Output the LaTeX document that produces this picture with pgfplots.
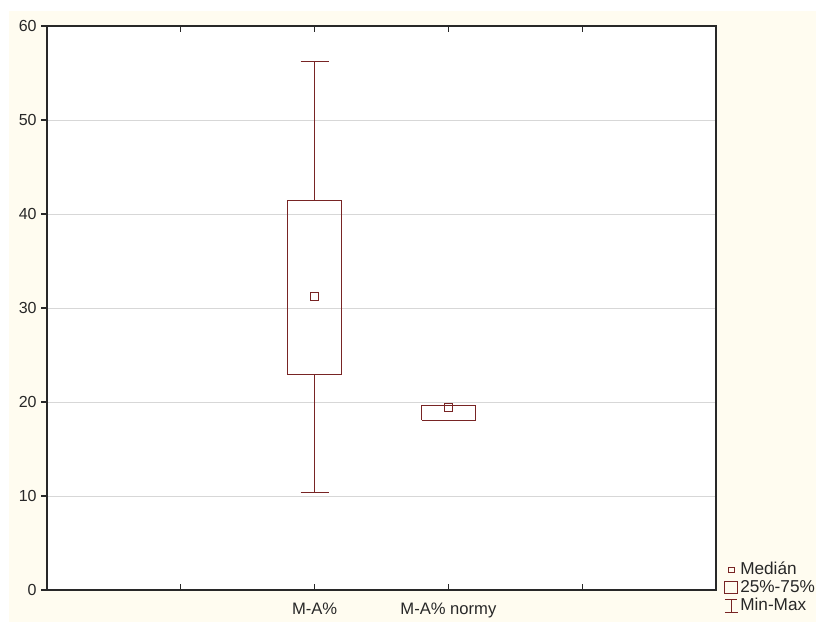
\documentclass[border=0pt]{standalone}
\usepackage{fontspec}
\setmainfont{Liberation Sans}
\usepackage{pgfplots}
\pgfplotsset{compat=1.18}
\definecolor{boxred}{RGB}{120,36,36}
\definecolor{cream}{RGB}{255,252,240}
\definecolor{gridgray}{RGB}{215,215,215}
\definecolor{axisgray}{RGB}{40,40,40}
\pgfplotsset{boxline/.style={boxred, line width=0.6pt, solid, mark=none, forget plot}}
\begin{document}
\begin{tikzpicture}
\path[use as bounding box, fill=white] (0,0) rectangle (408pt,311pt);
\fill[cream] (4.5pt,0) rectangle (408pt,305.5pt);
\begin{axis}[
 at={(23.5pt,16pt)}, anchor=south west,
 scale only axis, width=334.5pt, height=282pt,
 xmin=0, xmax=5, ymin=0, ymax=60,
 xtick={1,2,3,4}, xticklabels={,M-A\%,M-A\% normy,},
 ytick={0,10,...,60},
 /pgf/number format/assume math mode=true,
 ymajorgrids, major grid style={gridgray, line width=0.5pt},
 axis line style={axisgray, line width=0.75pt},
 axis background/.style={fill=white},
 tick align=inside, xtick pos=both, ytick pos=left,
 major tick length=3pt,
 tick style={axisgray, line width=0.6pt},
 every major y tick/.append style={xshift=-3pt},
 ticklabel style={font=\fontsize{8}{9.5}\selectfont, text=axisgray},
 yticklabel style={anchor=east, inner sep=0pt, xshift=-5pt},
 xticklabel style={anchor=north, inner sep=0pt, yshift=-6.3pt, font=\fontsize{8.3}{10}\selectfont},
 legend style={at={(rel axis cs:1,0)}, anchor=west, xshift=4pt, yshift=1pt,
   draw=none, fill=none, inner sep=0pt, font=\fontsize{8.6}{10}\selectfont,
   text=axisgray, row sep=1.5pt,
   nodes={inner sep=0pt, text height=6pt, text depth=1.5pt}},
 legend cell align=left,
]
\addlegendimage{legend image code/.code={
  \path (0,0) (7.5pt,0);
  \draw[boxred, line width=0.5pt] (1.8pt,-1.3pt) rectangle (4.6pt,1.3pt);}}
\addlegendentry{Medián}
\addlegendimage{legend image code/.code={
  \path (0,0) (7.5pt,0);
  \draw[boxred, line width=0.5pt] (0,-3pt) rectangle (6.5pt,3pt);}}
\addlegendentry{25\%-75\%}
\addlegendimage{legend image code/.code={
  \path (0,0) (7.5pt,0);
  \draw[boxred, line width=0.5pt] (3.25pt,-3.2pt)--(3.25pt,3.2pt)
     (0.3pt,3.2pt)--(6.2pt,3.2pt) (0,-3.2pt)--(6.5pt,-3.2pt);}}
\addlegendentry{Min-Max}

% M-A%: min 10.35, Q1 22.9, median 31.2, Q3 41.4, max 56.2
\addplot[boxline] coordinates {(1.8,22.9) (2.2,22.9) (2.2,41.4) (1.8,41.4) (1.8,22.9)};
\addplot[boxline] coordinates {(2,41.4) (2,56.2)};
\addplot[boxline] coordinates {(1.895,56.2) (2.105,56.2)};
\addplot[boxline] coordinates {(2,22.9) (2,10.35)};
\addplot[boxline] coordinates {(1.895,10.35) (2.105,10.35)};
% M-A% normy: min 18.05, Q1 18.05, median 19.39, Q3 19.6, max 19.6
\addplot[boxline] coordinates {(2.8,18.05) (3.2,18.05) (3.2,19.6) (2.8,19.6) (2.8,18.05)};
% medians
\addplot[boxline, only marks, mark=square, mark size=1.9pt, mark options={line width=0.55pt, solid, fill=white}]
  coordinates {(2,31.2) (3,19.39)};
\end{axis}
\end{tikzpicture}
\end{document}
